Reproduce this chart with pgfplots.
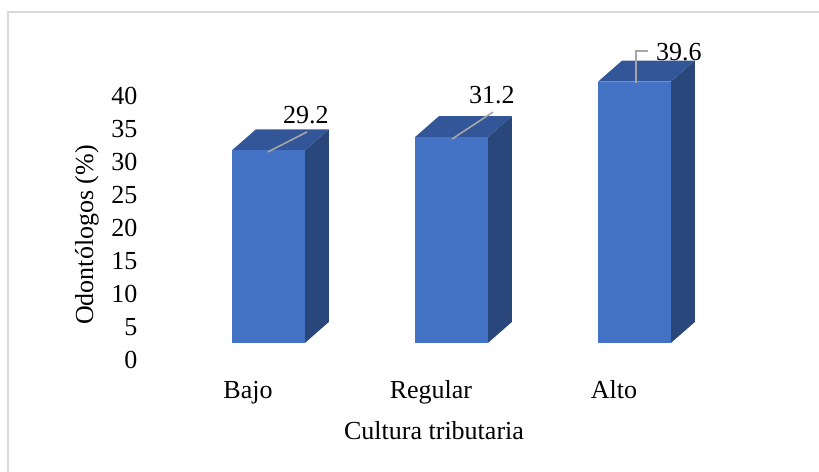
\documentclass[border=0pt]{standalone}
\usepackage{fontspec}
\setmainfont{Liberation Serif}
\usepackage{pgfplots}
\pgfplotsset{compat=1.18}
\definecolor{barfront}{RGB}{68,114,196}
\definecolor{bartop}{RGB}{50,86,152}
\definecolor{barside}{RGB}{42,71,124}
\definecolor{frame}{RGB}{217,217,217}
\definecolor{leader}{RGB}{166,166,166}
\newcommand{\lblfont}{\fontsize{19.5}{23}\selectfont}
\begin{document}
\begin{tikzpicture}
\clip (0,0) rectangle (614.25pt,354pt);
\draw[frame, line width=1.5pt] (6pt,-20pt) rectangle (640pt,345pt);
\begin{axis}[
  at={(106.5pt,84pt)}, anchor=south west,
  scale only axis, width=478.5pt, height=222.75pt,
  xmin=-0.579, xmax=2.907, ymin=0, ymax=45,
  clip=false,
  axis line style={draw=none},
  major tick length=0pt,
  ytick={0,5,...,40},
  xtick={0,1,2},
  xticklabels={Bajo,Regular,Alto},
  ticklabel style={font=\lblfont},
  /pgf/number format/assume math mode=true,
  xticklabel style={anchor=base, yshift=-28.5pt},
  xlabel={Cultura tributaria},
  ylabel={Odontólogos (\%)},
  label style={font=\lblfont},
  xlabel style={at={(axis description cs:0.4577,-0.269)}, anchor=base},
  ylabel style={at={(axis description cs:-0.0862,0.421)}, anchor=center},
]
% Bajo (29.2)
\addplot[fill=barside, draw=none] coordinates {(0.311,2.58) (0.442,5.76) (0.442,34.96) (0.311,31.78)} --cycle;
\addplot[fill=bartop, draw=none] coordinates {(-0.087,31.78) (0.311,31.78) (0.442,34.96) (0.044,34.96)} --cycle;
\addplot[fill=barfront, draw=none] coordinates {(-0.087,2.58) (0.311,2.58) (0.311,31.78) (-0.087,31.78)} --cycle;
% Regular (31.2)
\addplot[fill=barside, draw=none] coordinates {(1.311,2.58) (1.442,5.76) (1.442,36.96) (1.311,33.78)} --cycle;
\addplot[fill=bartop, draw=none] coordinates {(0.913,33.78) (1.311,33.78) (1.442,36.96) (1.044,36.96)} --cycle;
\addplot[fill=barfront, draw=none] coordinates {(0.913,2.58) (1.311,2.58) (1.311,33.78) (0.913,33.78)} --cycle;
% Alto (39.6)
\addplot[fill=barside, draw=none] coordinates {(2.311,2.58) (2.442,5.76) (2.442,45.36) (2.311,42.18)} --cycle;
\addplot[fill=bartop, draw=none] coordinates {(1.913,42.18) (2.311,42.18) (2.442,45.36) (2.044,45.36)} --cycle;
\addplot[fill=barfront, draw=none] coordinates {(1.913,2.58) (2.311,2.58) (2.311,42.18) (1.913,42.18)} --cycle;
% leader lines and data labels
\draw[leader, line width=1.2pt] (axis cs:0.109,31.52) -- (axis cs:0.322,34.55);
\draw[leader, line width=1.2pt] (axis cs:1.115,33.48) -- (axis cs:1.339,37.58);
\draw[leader, line width=1.2pt] (axis cs:2.120,41.97) -- (axis cs:2.120,46.82) -- (axis cs:2.186,46.82);
\node[font=\lblfont] at (axis cs:0.317,37.12) {29.2};
\node[font=\lblfont] at (axis cs:1.333,40.15) {31.2};
\node[font=\lblfont] at (axis cs:2.355,46.67) {39.6};
\end{axis}
\end{tikzpicture}
\end{document}
